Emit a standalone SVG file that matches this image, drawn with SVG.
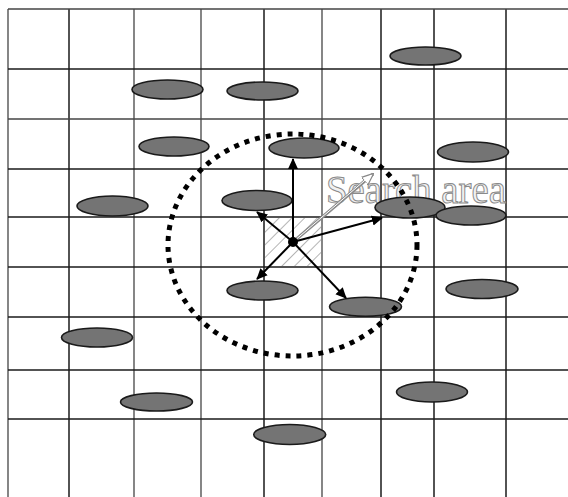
<svg xmlns="http://www.w3.org/2000/svg" width="568" height="497" viewBox="0 0 568 497">
<defs>
<style>
.g{stroke:#1a1a1a;stroke-width:1.5;fill:none}
.gl{stroke:#444;stroke-width:1.3;fill:none}
.obj{fill:#747474;stroke:#1a1a1a;stroke-width:1.6}
.arr{stroke:#000;stroke-width:2;fill:none;marker-end:url(#ah)}
.lbl{font-family:"Liberation Serif","Times New Roman",serif;font-size:41px;fill:#f2f2f2;stroke:#8a8a8a;stroke-width:1}
</style>
<marker id="ah" markerWidth="11" markerHeight="11" viewBox="0 0 12 12" refX="11" refY="6" orient="auto" markerUnits="userSpaceOnUse">
<path d="M0,0.5 L12,6 L0,11.5 Z" fill="#000"/>
</marker>
<marker id="ahg" markerWidth="12" markerHeight="12" viewBox="0 0 12 12" refX="11" refY="6" orient="auto" markerUnits="userSpaceOnUse">
<path d="M0,1 L12,6 L0,11 Z" fill="#fff" stroke="#888" stroke-width="1.2"/>
</marker>
<pattern id="hatch" width="9" height="9" patternUnits="userSpaceOnUse" patternTransform="rotate(45)">
<line x1="0" y1="0" x2="0" y2="9" stroke="#8c8c8c" stroke-width="1.3"/>
</pattern>
</defs>
<rect x="0" y="0" width="568" height="497" fill="#fff"/>
<g id="grid">
<line class="gl" x1="8" y1="9" x2="8" y2="497"/>
<line class="g" x1="69" y1="9" x2="69" y2="497"/>
<line class="gl" x1="134" y1="9" x2="134" y2="497"/>
<line class="gl" x1="201" y1="9" x2="201" y2="497"/>
<line class="g" x1="264" y1="9" x2="264" y2="497"/>
<line class="gl" x1="322" y1="9" x2="322" y2="497"/>
<line class="g" x1="381" y1="9" x2="381" y2="497"/>
<line class="g" x1="434" y1="9" x2="434" y2="497"/>
<line class="g" x1="506" y1="9" x2="506" y2="497"/>
<line class="gl" x1="8" y1="9" x2="568" y2="9"/>
<line class="g" x1="8" y1="69" x2="568" y2="69"/>
<line class="gl" x1="8" y1="119" x2="568" y2="119"/>
<line class="g" x1="8" y1="169" x2="568" y2="169"/>
<line class="g" x1="8" y1="217" x2="568" y2="217"/>
<line class="g" x1="8" y1="267" x2="568" y2="267"/>
<line class="g" x1="8" y1="317" x2="568" y2="317"/>
<line class="g" x1="8" y1="370" x2="568" y2="370" stroke-width="1.9"/>
<line class="g" x1="8" y1="419" x2="568" y2="419"/>
</g>
<g id="cell">
<rect x="265" y="218" width="56" height="48" fill="url(#hatch)"/>
</g>
<g id="label">
<text class="lbl" x="326" y="203" textLength="180" lengthAdjust="spacingAndGlyphs">Search area</text>
</g>
<g id="objects">
<ellipse id="o1" class="obj" cx="425.5" cy="56" rx="35.5" ry="9"/>
<ellipse id="o2" class="obj" cx="167.5" cy="89.5" rx="35.5" ry="9.5"/>
<ellipse id="o3" class="obj" cx="262.5" cy="91" rx="35.5" ry="9"/>
<ellipse id="o4" class="obj" cx="174" cy="146.5" rx="35" ry="9.5"/>
<ellipse id="o5" class="obj" cx="304" cy="148" rx="35" ry="10"/>
<ellipse id="o6" class="obj" cx="473" cy="152" rx="35.5" ry="10"/>
<ellipse id="o7" class="obj" cx="112.5" cy="206" rx="35.5" ry="10"/>
<ellipse id="o8" class="obj" cx="257" cy="200.5" rx="35" ry="10"/>
<ellipse id="o9" class="obj" cx="410" cy="207.5" rx="35" ry="10.5"/>
<ellipse id="o10" class="obj" cx="471" cy="215.5" rx="35" ry="9.5"/>
<ellipse id="o11" class="obj" cx="262.5" cy="290.5" rx="35.5" ry="9.5"/>
<ellipse id="o12" class="obj" cx="482" cy="289" rx="36" ry="9.5"/>
<ellipse id="o13" class="obj" cx="365.5" cy="306.8" rx="36" ry="9.5"/>
<ellipse id="o14" class="obj" cx="97" cy="337.5" rx="35.5" ry="9.5"/>
<ellipse id="o15" class="obj" cx="156.5" cy="402" rx="36" ry="9"/>
<ellipse id="o16" class="obj" cx="432" cy="392" rx="35.5" ry="10"/>
<ellipse id="o17" class="obj" cx="289.7" cy="434.5" rx="36" ry="10"/>
</g>
<g id="search-circle">
<ellipse cx="292.5" cy="245" rx="124.5" ry="111" fill="none" stroke="#000" stroke-width="5" stroke-dasharray="5 6"/>
</g>
<g id="connectors">
<line x1="293" y1="242" x2="373" y2="174" stroke="#8a8a8a" stroke-width="3.2" marker-end="url(#ahg)"/>
<line x1="293" y1="242" x2="371" y2="175" stroke="#fff" stroke-width="1"/>
<line class="arr" x1="293" y1="242" x2="293" y2="159"/>
<line class="arr" x1="293" y1="242" x2="257" y2="212"/>
<line class="arr" x1="293" y1="242" x2="257" y2="279"/>
<line class="arr" x1="293" y1="242" x2="346" y2="298"/>
<line class="arr" x1="293" y1="242" x2="382" y2="218"/>
</g>
<g id="center">
<circle cx="293" cy="242" r="5" fill="#000"/>
</g>
</svg>
